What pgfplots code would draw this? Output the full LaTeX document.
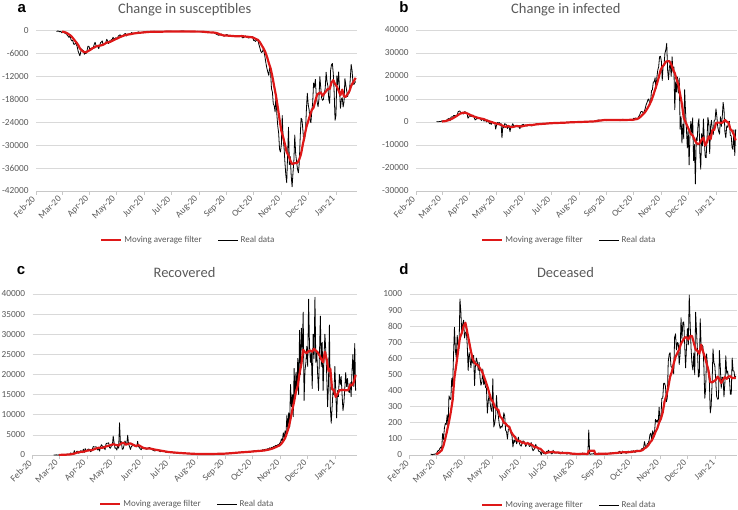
\documentclass[border=0pt]{standalone}
\usepackage{pgfplots}
\pgfplotsset{compat=1.18}
\usepackage{fontspec}
\setmainfont{Carlito}
\newfontfamily\letterfont{Liberation Sans}
\definecolor{txtgray}{RGB}{89,89,89}
\definecolor{gridgray}{RGB}{217,217,217}
\definecolor{axgray}{RGB}{200,200,200}
\definecolor{mared}{RGB}{222,24,24}
\pgfplotsset{
 panel/.style={
  scale only axis, anchor=south west,
  xmin=0, xmax=358.5,
  scaled y ticks=false, scaled x ticks=false,
  xtick={0,29,60,90,121,151,182,213,243,274,304,335},
  xticklabels={Feb-20,Mar-20,Apr-20,May-20,Jun-20,Jul-20,Aug-20,Sep-20,Oct-20,Nov-20,Dec-20,Jan-21},
  axis x line*=bottom, axis y line*=left,
  separate axis lines,
  x axis line style={axgray, line width=0.75pt},
  y axis line style={draw=none},
  xtick style={axgray, line width=0.75pt},
  ytick style={draw=none},
  tick align=outside, major tick length=4pt,
  ymajorgrids, major grid style={gridgray, line width=0.75pt},
  x tick label style={rotate=45, anchor=east, font=\fontsize{9.3}{10}\selectfont, text=txtgray},
  y tick label style={font=\fontsize{9.3}{10}\selectfont, text=txtgray},
  legend columns=2,
  legend style={draw=none, fill=none, inner sep=0pt, font=\fontsize{9}{10}\selectfont, nodes={text=txtgray}, /tikz/every even column/.append style={column sep=14pt}},
  legend image code/.code={\draw[#1] (0pt,0pt) -- (20pt,0pt);},
 },
 real/.style={black, line width=0.8pt, forget plot, line join=round},
 ma/.style={mared, line width=2.2pt, forget plot, line join=round},
}
\begin{document}
\begin{tikzpicture}
\useasboundingbox (0,0) rectangle (738pt,-510pt);
% ---------------- a
\begin{axis}[panel, at={(36pt,-191pt)}, width=321pt, height=160.3pt,
  ymin=-42000, ymax=0, ytick={-42000,-36000,-30000,-24000,-18000,-12000,-6000,0},
  yticklabels={-42000,-36000,-30000,-24000,-18000,-12000,-6000,0},
  legend style={at={(0.1994,-0.3057)}, anchor=west}]
\addplot[real] coordinates {(23,-221)(24,-93)(25,-78)(26,-250)(27,-238)(28,-240)(29,-566)(30,-342)(31,-466)(32,-587)(33,-769)(34,-778)(35,-1247)(36,-1492)(37,-1797)(38,-977)(39,-2313)(40,-2651)(41,-2547)(42,-3497)(43,-3590)(44,-3233)(45,-3526)(46,-4207)(47,-5322)(48,-5986)(49,-6557)(50,-5560)(51,-4789)(52,-5249)(53,-5210)(54,-6153)(55,-5959)(56,-5974)(57,-5217)(58,-4050)(59,-4053)(60,-4782)(61,-4668)(62,-4585)(63,-4805)(64,-4316)(65,-3599)(66,-3039)(67,-3836)(68,-4204)(69,-3951)(70,-4694)(71,-4092)(72,-3153)(73,-2972)(74,-2667)(75,-3786)(76,-3493)(77,-3491)(78,-3047)(79,-2256)(80,-2729)(81,-3370)(82,-2646)(83,-3021)(84,-2357)(85,-2324)(86,-1739)(87,-2091)(88,-2086)(89,-1872)(90,-1965)(91,-1900)(92,-1389)(93,-1221)(94,-1075)(95,-1444)(96,-1401)(97,-1327)(98,-1083)(99,-802)(100,-744)(101,-1402)(102,-888)(103,-992)(104,-789)(105,-875)(106,-675)(107,-451)(108,-813)(109,-665)(110,-642)(111,-652)(112,-669)(113,-531)(114,-300)(115,-397)(116,-584)(117,-593)(118,-516)(119,-416)(120,-355)(121,-178)(122,-318)(123,-321)(124,-177)(125,-518)
(126,-270)(129,-283)(132,-163)(135,-301)(138,-333)(141,-224)(144,-190)(147,-175)(150,-142)(153,-223)(156,-208)(159,-229)(162,-114)(165,-114)(168,-233)(171,-218)(174,-282)(177,-274)(180,-170)(183,-239)(186,-384)(189,-347)(192,-412)(195,-481)(198,-403)(201,-845)(204,-1210)(207,-878)(210,-1444)(213,-996)(216,-1397)(219,-1297)(222,-1434)(225,-1501)(228,-1229)(231,-1907)(234,-1392)(237,-1912)(240,-1766)
(241,-1494)(242,-1648)(243,-2548)(244,-2499)(245,-2844)(246,-2578)(247,-2257)(248,-2677)(249,-3678)(250,-4458)(251,-5372)(252,-5724)(253,-5456)(254,-4619)(255,-5901)(256,-7332)(257,-8804)(258,-10010)(259,-10925)(260,-11705)(261,-9338)(262,-10874)(263,-15199)(264,-16079)(265,-19143)(266,-19644)(267,-21273)(268,-17012)(269,-21994)(270,-24991)(271,-26831)(272,-31084)(273,-31758)(274,-29907)(275,-22253)(276,-28244)(277,-30550)(278,-34505)(279,-37809)(280,-39811)(281,-32616)(282,-25271)(283,-35098)(284,-32961)(285,-37978)(286,-40902)(287,-37255)(288,-33979)(289,-27354)(290,-32191)(291,-34283)(292,-36176)(293,-37242)(294,-34767)(295,-28337)(296,-22930)(297,-23232)(298,-25853)(299,-29003)(300,-28352)(301,-26323)(302,-20648)(303,-16377)(304,-19350)(305,-20709)(306,-23225)(307,-24099)(308,-21052)(309,-18887)(310,-13720)(311,-14842)(312,-12756)(313,-16999)(314,-18727)(315,-19903)(316,-17938)(317,-12030)(318,-14844)(319,-17572)(320,-18236)(321,-17992)(322,-16308)(323,-15104)(324,-10872)(325,-13318)(326,-14522)(327,-18040)(328,-19037)(329,-10407)(330,-8913)(331,-8585)(332,-11224)(333,-16202)(334,-23477)(335,-22211)(336,-11831)(337,-14245)(338,-10800)(339,-15378)(340,-20331)(341,-18020)(342,-17533)(343,-19978)(344,-18627)(345,-12545)(346,-14242)(347,-15774)(348,-17246)(349,-16146)(350,-16310)(351,-12545)(352,-8825)(353,-10497)(354,-13571)(355,-14078)(356,-13633)(357,-13331)};
\addplot[ma] coordinates {(29,-241)(31,-311)(33,-458)(35,-679)(37,-1019)(39,-1339)(41,-1861)(43,-2482)(45,-3051)(47,-3703)(49,-4632)(51,-5135)(53,-5525)(55,-5640)(57,-5507)(59,-5231)(61,-4958)(63,-4594)(65,-4401)(67,-4121)(70,-3948)(73,-3843)(76,-3551)(79,-3102)(82,-3005)(85,-2672)(88,-2323)(91,-1997)(95,-1552)(100,-1125)(105,-927)(110,-701)(115,-551)(120,-452)(125,-326)(130,-275)(137,-295)(144,-229)(151,-193)(158,-200)(165,-190)(172,-200)(179,-240)(186,-241)(190,-357)(194,-438)(198,-462)(202,-623)(206,-1011)(210,-1246)(214,-1289)(218,-1356)(222,-1433)(226,-1441)(230,-1407)(234,-1541)(238,-1633)(242,-1749)(245,-2095)(248,-2436)(250,-2999)(252,-3821)(254,-4569)(256,-5552)(258,-6835)(260,-8471)(262,-9855)(264,-12019)(266,-14569)(268,-17032)(270,-20019)(272,-23261)(274,-26225)(276,-27867)(278,-29757)(280,-31868)(282,-32687)(284,-34010)(286,-34948)(288,-34778)(290,-34660)(292,-34591)(294,-33713)(296,-32275)(298,-29791)(300,-27496)(302,-25192)(304,-23701)(306,-22141)(308,-20780)(310,-20149)(312,-18369)(314,-16712)(316,-16412)(318,-16171)(320,-17036)(322,-16417)(324,-15847)(326,-15193)(328,-15314)(330,-13587)(332,-12961)(334,-13978)(336,-14635)(338,-15713)(340,-16896)(342,-15448)(344,-17238)(346,-17325)(348,-16564)(350,-15841)(352,-14441)(354,-13591)(356,-12780)(357,-12354)};
\addlegendimage{mared, line width=2.2pt}\addlegendentry{Moving average filter}
\addlegendimage{black, line width=0.8pt}\addlegendentry{Real data}
\end{axis}
% ---------------- b
\begin{axis}[panel, at={(416pt,-191pt)}, width=321pt, height=161pt,
  ymin=-30000, ymax=40000, ytick={-30000,-20000,-10000,0,10000,20000,30000,40000},
  yticklabels={-30000,-20000,-10000,0,10000,20000,30000,40000},
  legend style={at={(0.2025,-0.304)}, anchor=west}]
\addplot[real] coordinates {(23,213)(24,90)(25,76)(26,203)(27,233)(28,228)(29,528)(30,258)(31,428)(32,443)(33,590)(34,620)(35,1145)(36,1326)(37,1598)(38,529)(39,2076)(40,2249)(41,2116)(42,2795)(43,2853)(44,2470)(45,2989)(46,2648)(47,4480)(48,4670)(49,4821)(50,3957)(51,3780)(52,3612)(53,3491)(54,4492)(55,4401)(56,3651)(57,3815)(58,1648)(59,2107)(60,2937)(61,2477)(62,2339)(63,2886)(64,2972)(65,1941)(66,880)(67,1195)(68,1615)(69,1396)(70,1996)(71,1984)(72,1363)(73,675)(74,1127)(75,1189)(76,355)(77,809)(78,486)(79,-20)(80,892)(81,210)(82,-761)(83,-321)(84,-1091)(85,256)(86,-290)(87,-608)(88,-548)(89,-3106)(90,-1335)(91,-239)(92,-525)(93,-199)(94,-1513)(95,-625)(96,-6887)(97,-1663)(98,-2450)(99,-764)(100,-937)(101,-1222)(102,-2809)(103,-2151)(104,-2200)(105,-4195)(106,-2075)(107,-1798)(108,-733)(109,-1571)(110,-1792)(111,-1978)(112,-2050)(113,-1719)(114,-2192)(115,-1681)(116,-2933)(117,-1577)(118,-1371)(119,-1195)(120,-1020)(121,-1682)(122,-1337)(123,-1450)(124,-1811)(125,-1067)
(126,-1202)(129,-1696)(132,-1193)(135,-725)(138,-1033)(141,-600)(144,-910)(147,-533)(150,-481)(153,-492)(156,-300)(159,-383)(162,-303)(165,-393)(168,-128)(171,-147)(174,-28)(177,-37)(180,-88)(183,-14)(186,124)(189,34)(192,206)(195,225)(198,99)(201,586)(204,906)(207,515)(210,1140)(213,590)(216,939)(219,790)(222,870)(225,887)(228,564)(231,1197)(234,625)(237,1102)(240,893)
(241,577)(242,824)(243,1624)(244,1476)(245,1717)(246,1710)(247,1190)(248,1699)(249,2547)(250,3236)(251,4444)(252,4545)(253,4430)(254,3280)(255,4760)(256,5889)(257,7471)(258,8455)(259,9678)(260,10036)(261,7865)(262,8985)(263,13572)(264,14043)(265,17352)(266,17393)(267,19245)(268,14571)(269,19373)(270,22586)(271,24014)(272,28385)(273,28561)(274,26499)(275,18020)(276,24391)(277,24698)(278,29860)(279,31363)(280,34186)(281,22485)(282,18415)(283,24018)(284,25338)(285,19842)(286,28352)(287,21711)(288,23933)(289,5350)(290,17460)(291,13030)(292,19523)(293,12543)(294,19075)(295,-3225)(296,2300)(297,-9121)(298,-869)(299,-7319)(300,14025)(301,4637)(302,-2893)(303,-11295)(304,-3435)(305,-18675)(306,-4768)(307,285)(308,-5110)(309,1823)(310,-16808)(311,-9792)(312,-26943)(313,-6888)(314,-8034)(315,-746)(316,1454)(317,-13461)(318,-20502)(319,-5108)(320,-10447)(321,1318)(322,-8245)(323,-15248)(324,-15543)(325,-7310)(326,1969)(327,-465)(328,-13722)(329,-1854)(330,708)(331,-3860)(332,-5435)(333,627)(334,922)(335,5749)(336,2267)(337,-2102)(338,-4048)(339,-5271)(340,2283)(341,-1894)(342,2050)(343,8495)(344,5266)(345,-4403)(346,-6874)(347,-1733)(348,-2276)(349,-331)(350,335)(351,-5832)(352,-6052)(353,-11106)(354,-11953)(355,-3443)(356,-14539)(357,-3161)};
\addplot[ma] coordinates {(29,224)(33,387)(37,879)(41,1577)(45,2507)(49,3562)(52,3995)(55,4079)(58,3587)(61,3005)(64,2481)(67,2099)(70,1714)(73,1461)(76,1241)(79,660)(82,282)(85,-119)(88,-480)(91,-839)(94,-1066)(97,-1664)(100,-2120)(103,-1714)(106,-2227)(109,-2103)(112,-1714)(115,-1855)(118,-1932)(121,-1637)(125,-1366)(130,-1300)(135,-1000)(140,-850)(145,-700)(150,-550)(155,-450)(160,-380)(165,-330)(170,-200)(175,-80)(180,-50)(185,30)(190,100)(195,200)(200,300)(205,600)(210,850)(215,900)(220,850)(225,850)(230,850)(235,900)(240,950)(243,1017)(245,1173)(247,1303)(249,1709)(251,2363)(253,3156)(255,3892)(257,4974)(259,6280)(261,7736)(263,9437)(265,11647)(267,14065)(269,16507)(271,19219)(273,22391)(275,23920)(277,24938)(279,26199)(281,26429)(283,26432)(285,25092)(287,22880)(289,21221)(291,18525)(293,16221)(295,11965)(297,7732)(299,1912)(301,61)(303,-1834)(305,-3565)(307,-5163)(309,-5882)(311,-7578)(313,-9062)(315,-9627)(317,-9201)(319,-7612)(321,-6785)(323,-10242)(325,-8655)(327,-6218)(329,-7453)(331,-3505)(333,-3429)(335,-449)(337,-262)(339,-265)(341,-431)(343,-70)(345,932)(347,130)(349,-265)(351,-3016)(353,-3856)(355,-5483)(357,-8012)};
\addlegendimage{mared, line width=2.2pt}\addlegendentry{Moving average filter}
\addlegendimage{black, line width=0.8pt}\addlegendentry{Real data}
\end{axis}
% ---------------- c
\begin{axis}[panel, at={(32.7pt,-455pt)}, width=324.3pt, height=161pt,
  ymin=0, ymax=40000, ytick={0,5000,10000,15000,20000,25000,30000,35000,40000},
  yticklabels={0,5000,10000,15000,20000,25000,30000,35000,40000},
  legend style={at={(0.2044,-0.304)}, anchor=west}]
\addplot[real] coordinates {(23,1)(24,0)(25,0)(26,42)(27,1)(28,4)(29,33)(30,66)(31,11)(32,116)(33,138)(34,109)(35,66)(36,33)(37,102)(38,280)(39,41)(40,213)(41,181)(42,527)(43,369)(44,414)(45,192)(46,1084)(47,415)(48,689)(49,943)(50,952)(51,408)(52,894)(53,1036)(54,999)(55,589)(56,1434)(57,646)(58,1590)(59,1109)(60,1118)(61,1431)(62,1480)(63,1238)(64,819)(65,1022)(66,1555)(67,2099)(68,1979)(69,1985)(70,2079)(71,1677)(72,1224)(73,1695)(74,962)(75,2072)(76,2563)(77,2200)(78,2128)(79,1822)(80,1303)(81,2723)(82,2943)(83,2922)(84,3033)(85,1808)(86,1696)(87,2317)(88,2311)(89,4693)(90,3031)(91,1665)(92,1740)(93,1225)(94,2352)(95,1700)(96,8014)(97,2747)(98,3339)(99,1401)(100,1502)(101,2452)(102,3502)(103,2881)(104,2747)(105,4917)(106,2605)(107,2150)(108,1384)(109,2075)(110,2278)(111,2500)(112,2600)(113,2200)(114,2400)(115,2000)(116,3400)(117,2100)(118,1800)(119,1500)(120,1300)(121,1800)(122,1600)(123,1700)(124,1900)(125,1500)
(126,1400)(129,1900)(132,1300)(135,1000)(138,1300)(141,800)(144,1100)(147,700)(150,600)(153,700)(156,500)(159,600)(162,400)(165,500)(168,350)(171,350)(174,300)(177,300)(180,250)(183,250)(186,250)(189,300)(192,200)(195,250)(198,300)(201,250)(204,300)(207,350)(210,300)(213,400)(216,450)(219,500)(222,550)(225,600)(228,650)(231,700)(234,750)(237,800)(240,850)
(241,900)(242,800)(243,900)(244,1000)(245,1100)(246,850)(247,1050)(248,950)(249,1100)(250,1200)(251,900)(252,1150)(253,1000)(254,1300)(255,1100)(256,1400)(257,1250)(258,1500)(259,1200)(260,1600)(261,1400)(262,1800)(263,1500)(264,1900)(265,1700)(266,2100)(267,1900)(268,2300)(269,2400)(270,2200)(271,2600)(272,2500)(273,2900)(274,3200)(275,4000)(276,3500)(277,5500)(278,4200)(279,6000)(280,5200)(281,9800)(282,6500)(283,10500)(284,7000)(285,17500)(286,12000)(287,15000)(288,9500)(289,21500)(290,14000)(291,20500)(292,16000)(293,24000)(294,15000)(295,31000)(296,20000)(297,31500)(298,26000)(299,35500)(300,13500)(301,21000)(302,23000)(303,27000)(304,22000)(305,38700)(306,27000)(307,23000)(308,25500)(309,16500)(310,30000)(311,24000)(312,39200)(313,23000)(314,26000)(315,20000)(316,16000)(317,25000)(318,34500)(319,22000)(320,28000)(321,16000)(322,24000)(323,30000)(324,26000)(325,20000)(326,12000)(327,18000)(328,32300)(329,12000)(330,7900)(331,12000)(332,16000)(333,15000)(334,22000)(335,16000)(336,9200)(337,16000)(338,14500)(339,20000)(340,17500)(341,19500)(342,15000)(343,11000)(344,13000)(345,16500)(346,20500)(347,17000)(348,19000)(349,16000)(350,15500)(351,18000)(352,14500)(353,21000)(354,25000)(355,17000)(356,27700)(357,16000)};
\addplot[ma] coordinates {(29,12)(33,53)(37,82)(41,131)(45,277)(49,587)(53,762)(57,858)(61,1131)(65,1174)(69,1528)(73,1820)(77,1770)(81,2116)(85,2365)(89,2683)(92,2493)(95,2344)(97,2778)(99,2968)(101,3022)(103,2546)(105,2772)(108,2884)(111,2558)(114,2205)(117,2457)(120,2071)(123,1686)(126,1600)(130,1600)(135,1350)(140,1150)(145,950)(150,750)(155,650)(160,550)(165,470)(170,400)(175,330)(180,280)(185,250)(190,260)(195,250)(200,270)(205,290)(210,310)(215,370)(220,460)(225,560)(230,650)(235,730)(240,810)(245,907)(249,993)(253,1050)(257,1157)(261,1350)(265,1586)(269,1971)(273,2400)(275,2829)(277,3457)(279,4186)(281,5457)(283,6814)(285,8929)(287,11186)(289,13286)(291,15714)(293,17214)(295,20286)(297,22571)(299,26143)(301,25500)(303,25357)(305,25814)(307,25957)(309,25671)(311,26386)(313,25886)(315,25529)(317,24743)(319,23786)(321,23071)(323,25643)(325,23714)(327,20857)(329,21471)(331,16314)(333,16171)(335,14414)(337,15171)(339,16100)(341,16100)(343,16214)(345,16071)(347,16071)(349,16143)(351,17500)(353,17286)(355,18143)(357,19886)};
\addlegendimage{mared, line width=2.2pt}\addlegendentry{Moving average filter}
\addlegendimage{black, line width=0.8pt}\addlegendentry{Real data}
\end{axis}
% ---------------- d
\begin{axis}[panel, at={(409.7pt,-455pt)}, width=327.5pt, height=161pt,
  ymin=0, ymax=1000, ytick={0,100,200,300,400,500,600,700,800,900,1000},
  yticklabels={0,100,200,300,400,500,600,700,800,900,1000},
  legend style={at={(0.2174,-0.31)}, anchor=west}]
\addplot[real] coordinates {(23,7)(24,3)(25,2)(26,5)(27,4)(28,8)(29,5)(30,18)(31,27)(32,28)(33,41)(34,49)(35,36)(36,133)(37,97)(38,168)(39,196)(40,189)(41,250)(42,175)(43,368)(44,349)(45,345)(46,475)(47,427)(48,627)(49,793)(50,651)(51,601)(52,743)(53,683)(54,662)(55,969)(56,889)(57,756)(58,812)(59,837)(60,727)(61,760)(62,766)(63,681)(64,525)(65,636)(66,604)(67,542)(68,610)(69,570)(70,619)(71,431)(72,566)(73,602)(74,578)(75,525)(76,575)(77,482)(78,433)(79,454)(80,534)(81,437)(82,464)(83,420)(84,415)(85,260)(86,333)(87,382)(88,323)(89,285)(90,269)(91,474)(92,174)(93,195)(94,236)(95,369)(96,274)(97,243)(98,194)(99,165)(100,179)(101,172)(102,195)(103,262)(104,242)(105,153)(106,145)(107,99)(108,162)(109,161)(110,156)(111,130)(112,119)(113,50)(114,92)(115,78)(116,117)(117,70)(118,87)(119,111)(120,75)(121,60)(122,55)(123,71)(124,88)(125,85)(126,72)(127,53)(128,65)(129,79)(130,71)(131,53)(132,56)(133,78)(134,44)(135,26)(136,34)(137,43)(138,66)(139,47)(140,49)(141,24)(142,23)(143,18)(144,0)(145,30)(146,12)(147,8)(148,8)(149,6)(150,23)
(151,21)(152,30)(153,15)(154,21)(155,7)(156,8)(157,30)(158,12)(159,12)(160,14)(161,13)(162,17)(163,11)(164,9)(165,7)(166,13)(167,20)(168,11)(169,15)(170,13)(171,15)(172,5)(173,9)(174,10)(175,10)(176,5)(177,11)(178,6)(179,6)(180,8)(181,5)(182,8)(183,3)(184,6)(185,5)(186,10)(187,10)(188,6)(189,13)(190,4)(191,3)(192,6)(193,6)(194,4)(195,6)(196,155)(197,5)(198,4)(199,7)(200,6)(201,9)(202,5)(203,7)(204,4)(205,6)(206,9)(207,13)(208,5)(209,9)(210,4)(211,9)(212,6)(213,6)(214,10)(215,10)(216,8)(217,11)(218,10)(219,7)(220,14)(221,9)(222,14)(223,14)(224,13)(225,14)(226,11)(227,14)(228,15)(229,20)(230,24)(231,10)(232,9)(233,24)(234,17)(235,19)(236,14)(237,10)(238,15)(239,24)(240,23)(241,17)(242,24)
(243,24)(244,23)(245,27)(246,18)(247,17)(248,28)(249,31)(250,22)(251,28)(252,29)(253,26)(254,39)(255,41)(256,43)(257,83)(258,55)(259,47)(260,69)(261,73)(262,89)(263,127)(264,136)(265,91)(266,151)(267,128)(268,141)(269,221)(270,205)(271,217)(272,199)(273,297)(274,208)(275,233)(276,353)(277,352)(278,445)(279,446)(280,425)(281,331)(282,356)(283,580)(284,623)(285,636)(286,550)(287,544)(288,546)(289,504)(290,731)(291,753)(292,653)(293,699)(294,692)(295,562)(296,630)(297,853)(298,722)(299,822)(300,827)(301,686)(302,541)(303,672)(304,785)(305,684)(306,993)(307,814)(308,662)(309,564)(310,528)(311,634)(312,499)(313,887)(314,761)(315,649)(316,484)(317,491)(318,846)(319,680)(320,683)(321,674)(322,553)(323,352)(324,415)(325,628)(326,553)(327,505)(328,459)(329,261)(330,305)(331,445)(332,659)(333,575)(334,555)(335,462)(336,364)(337,347)(338,348)(339,649)(340,548)(341,414)(342,483)(343,483)(344,361)(345,448)(346,616)(347,507)(348,522)(349,477)(350,475)(351,377)(352,377)(353,603)(354,524)(355,521)(356,472)(357,492)};
\addplot[ma] coordinates {(29,4.9)(31,9.9)(33,18.7)(35,29.1)(37,58.7)(39,102.9)(41,152.7)(43,206.1)(45,267.4)(47,341.3)(49,483.4)(51,559.9)(53,646.4)(55,728.9)(57,757.6)(59,801.1)(61,821.4)(63,762.7)(65,704.6)(67,644.9)(69,595.4)(71,573.1)(73,562.9)(75,555.9)(77,537)(79,521.3)(81,491.4)(83,460.6)(85,426.3)(87,387.3)(89,345.4)(91,332.3)(93,300.3)(95,286)(97,280.7)(99,239.4)(101,228)(103,201.4)(105,195.4)(107,181.1)(109,174.9)(111,143.7)(113,125.3)(115,112.3)(117,93.7)(119,86.4)(121,85.4)(123,75.6)(125,77.9)(127,69.1)(129,73.3)(131,68.3)(133,65)(135,58.1)(137,47.7)(139,48.3)(141,41.3)(143,38.6)(145,27.3)(147,16.4)(149,11.7)(151,15.4)(154,17.7)(157,18.9)(160,14.9)(163,15.6)(166,12)(169,12.3)(172,13.1)(175,11)(178,8)(181,7.3)(184,6)(187,6.7)(190,7.7)(193,6.9)(195,6)(196,26.3)(199,26.7)(202,27.3)(203,6.1)(206,6.6)(209,7.6)(212,7.9)(215,7.7)(218,8.7)(221,9.9)(224,11.6)(227,12.7)(230,15.9)(233,16.6)(236,16.7)(239,17.6)(242,18.1)(243,19.6)(246,22.3)(249,24)(252,24.7)(255,30.9)(257,41.3)(259,47.7)(261,58.7)(263,77.6)(265,90.3)(267,113.6)(269,142.1)(271,164.9)(273,201.1)(275,225.7)(277,265.6)(279,333.4)(281,369.3)(283,419.3)(285,485.3)(287,517.1)(289,569)(291,609.1)(293,632.9)(295,656.3)(297,691.7)(299,711.4)(301,728.9)(303,731.9)(305,716.7)(307,739.3)(309,739.1)(311,697)(313,655.4)(315,646)(317,629.3)(319,685.4)(321,643.9)(323,611.3)(325,569.3)(327,525.7)(329,453.3)(331,450.9)(333,458.4)(335,466)(337,486.7)(339,471.4)(341,447.4)(343,467.4)(345,483.7)(347,473.1)(349,487.7)(351,488.9)(353,476.9)(355,479.1)(357,480.9)};
\addlegendimage{mared, line width=2.2pt}\addlegendentry{Moving average filter}
\addlegendimage{black, line width=0.8pt}\addlegendentry{Real data}
\end{axis}
% titles and panel letters
\node[anchor=base, font=\fontsize{14.5}{17}\selectfont, text=txtgray] at (184.7pt,-13.3pt) {Change in susceptibles};
\node[anchor=base, font=\fontsize{14.5}{17}\selectfont, text=txtgray] at (565.8pt,-13.3pt) {Change in infected};
\node[anchor=base, font=\fontsize{14.5}{17}\selectfont, text=txtgray] at (184.5pt,-277.7pt) {Recovered};
\node[anchor=base, font=\fontsize{14.5}{17}\selectfont, text=txtgray] at (565.5pt,-277.7pt) {Deceased};
\node[anchor=base, font=\letterfont\bfseries\fontsize{15}{18}\selectfont] at (21.7pt,-12.7pt) {a};
\node[anchor=base, font=\letterfont\bfseries\fontsize{15}{18}\selectfont] at (404pt,-12.7pt) {b};
\node[anchor=base, font=\letterfont\bfseries\fontsize{15}{18}\selectfont] at (21pt,-274.3pt) {c};
\node[anchor=base, font=\letterfont\bfseries\fontsize{15}{18}\selectfont] at (404pt,-274.3pt) {d};
\end{tikzpicture}
\end{document}
